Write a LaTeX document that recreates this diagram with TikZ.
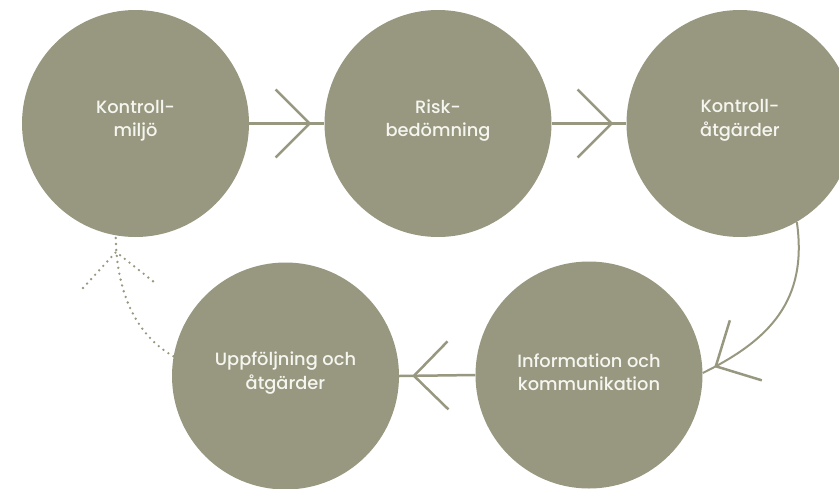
\documentclass[tikz,border=0pt]{standalone}
\usepackage{fontspec}
\setmainfont{Poppins Medium}
\usetikzlibrary{arrows.meta,decorations.markings}
\definecolor{olive}{RGB}{152,151,128}
\definecolor{offwhite}{RGB}{246,246,240}
\tikzset{
  stage/.style={circle, fill=olive, minimum size=227pt, inner sep=0pt},
  stagetext/.style={text=offwhite, align=center, inner sep=0pt,
    font=\fontsize{17.8}{23.5}\selectfont},
  flow/.style={draw=olive, line width=2.5pt,
    postaction={decorate, decoration={markings,
      mark=at position -13pt with {\arrow{Straight Barb[length=34pt,width=68pt,line width=2.5pt]}}}}},
  dotflow/.style={draw=olive, line width=2.6pt, line cap=round, dash pattern=on 0pt off 6pt}
}
\begin{document}
\begin{tikzpicture}[x=1pt,y=-1pt]
\useasboundingbox (0,0) rectangle (839,488);
\node[stage] (c1) at (135.5,123.5) {};
\node[stage] (c2) at (438,123.5) {};
\node[stage] (c3) at (740,123.5) {};
\node[stage] (c4) at (285.5,376) {};
\node[stage] (c5) at (589,375) {};
\node[stagetext] (t1) at ([yshift=3pt]c1.center) {Kontroll-\\miljö};
\node[stagetext] (t2) at ([yshift=3pt]c2.center) {Risk-\\bedömning};
\node[stagetext] (t3) at ([yshift=3pt]c3.center) {Kontroll-\\åtgärder};
\node[stagetext] (t4) at ([yshift=3pt]c4.center) {Uppföljning och\\åtgärder};
\node[stagetext] (t5) at ([yshift=3pt]c5.center) {Information och\\kommunikation};
\draw[flow] (c1.east) -- (c2.west);
\draw[flow] (c2.east) -- (c3.west);
\draw[flow, line width=2pt] (c3.-60) .. controls (808,300) and (770,340) .. (c5.1);
\draw[flow] (c5.west) -- (c4.east);
\draw[dotflow] (c4.170) .. controls (135,335) and (116,290) .. (c1.-100);
\coordinate (dtip) at (116,252);
\draw[dotflow] (dtip) ++(-33,36) -- (dtip) -- ++(38,30);
\end{tikzpicture}
\end{document}
